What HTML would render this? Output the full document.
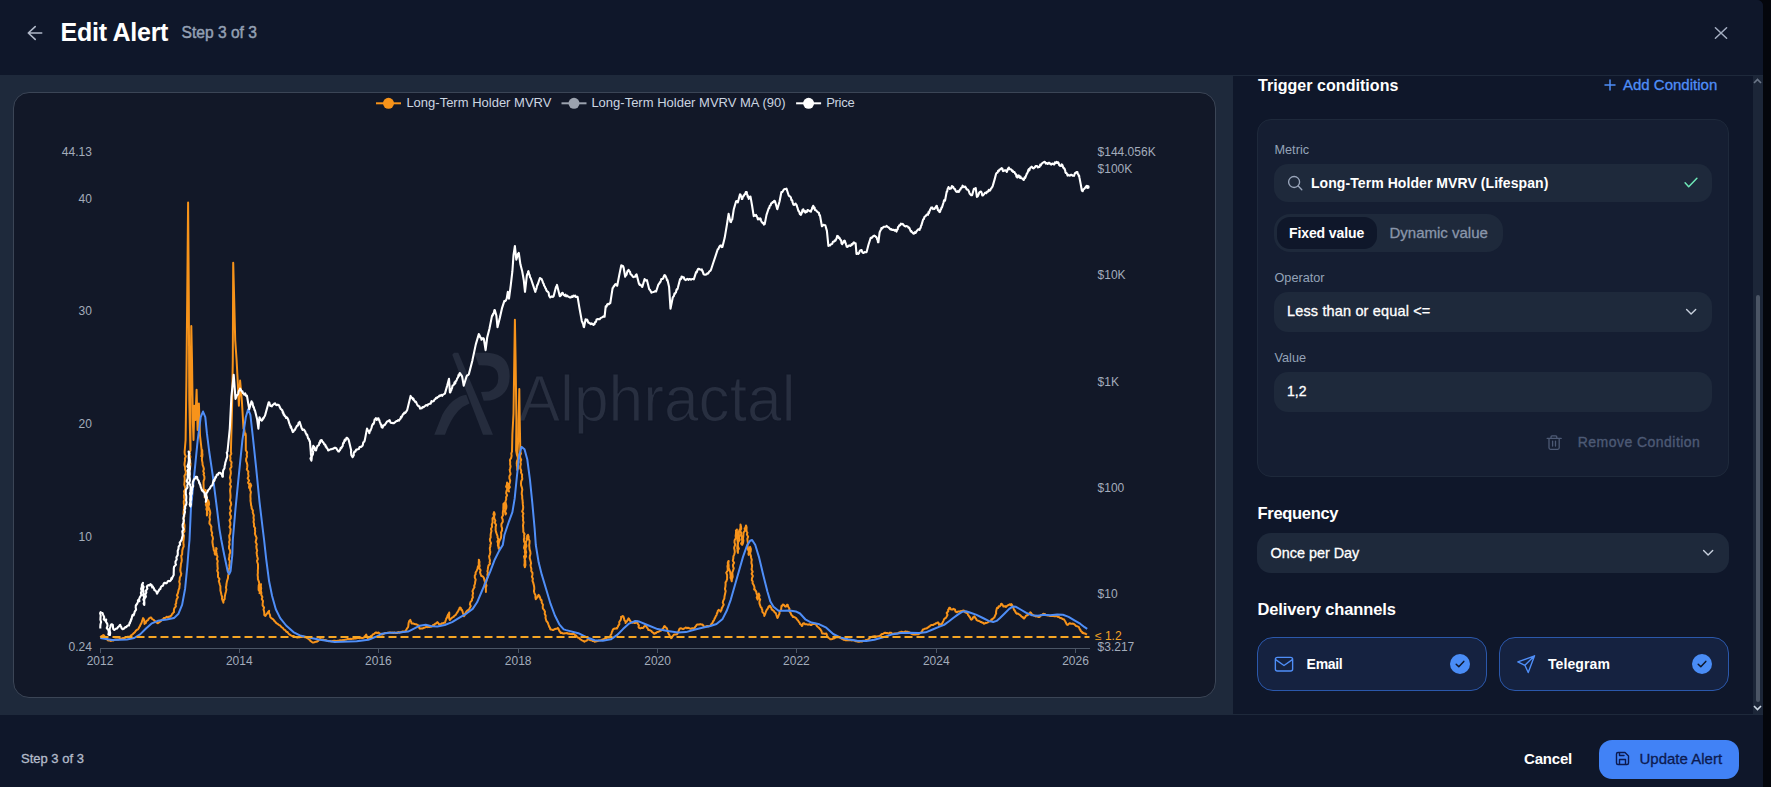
<!DOCTYPE html><html><head><meta charset="utf-8"><title>Edit Alert</title><style>
*{box-sizing:border-box;margin:0;padding:0}
html,body{width:1771px;height:787px;overflow:hidden;background:#04060c;font-family:"Liberation Sans",sans-serif;color:#fff}
.abs{position:absolute}
#modal{position:absolute;left:0;top:0;width:1763px;height:787px;background:#0f172a;border-top-right-radius:6px;overflow:hidden}
#hdr{position:absolute;left:0;top:0;width:1763px;height:76px;background:#0f172a;border-bottom:1px solid #1e293b}
#left{position:absolute;left:0;top:75px;width:1233px;height:639px;background:#1e293b}
#card{position:absolute;left:13px;top:92px;width:1203px;height:606px;background:#121828;border:1px solid #3b4556;border-radius:16px}
#right{position:absolute;left:1233px;top:76px;width:530px;height:638px;background:#0f172a}
#ftr{position:absolute;left:0;top:714px;width:1763px;height:73px;background:#0f172a;border-top:1px solid #1e293b}
.t{position:absolute;white-space:nowrap;line-height:1}
.lbl{font-size:12.7px;color:#94a3b8}
.inp{position:absolute;background:#1e293b;border-radius:14px}
</style></head><body>
<div id="modal">
<div id="hdr"></div>
<svg class="abs" style="left:26px;top:24px" width="18" height="18" viewBox="0 0 18 18" fill="none" stroke="#b1b9c9" stroke-width="1.6" stroke-linecap="round" stroke-linejoin="round"><path d="M15.7 9H2.3M9.2 2.6L2.3 9L9.2 15.4"/></svg>
<div class="t" id="title" style="left:60.5px;top:19.9px;font-size:25px;font-weight:700;letter-spacing:-0.25px">Edit Alert</div>
<div class="t" id="step" style="left:181.5px;top:24.5px;font-size:15.6px;color:#94a0b4;-webkit-text-stroke:0.45px #94a0b4">Step 3 of 3</div>
<svg class="abs" style="left:1713px;top:25px" width="16" height="16" viewBox="0 0 16 16" fill="none" stroke="#a3adc0" stroke-width="1.5" stroke-linecap="round"><path d="M2.4 2.7L13.6 13.3M13.6 2.7L2.4 13.3"/></svg>
<div id="left"></div><div id="card"></div>
<svg class="abs" style="left:0;top:0" width="1771" height="787" viewBox="0 0 1771 787"><g fill="#252c3d"><path d="M452.3,354.7 L454.1,352.7 L458.3,352.7 L493,434.7 L483,434.7 Z"/><path d="M466.3,394.7 Q452,397 442.3,414.7 L434.3,434.7 L445,434.7 Q450,420 458.3,410.7 Q463,406 469.5,403.5 Z"/><path d="M474.3,352.7 L488,352.7 Q509.7,354 509.7,376 Q509.7,396 490,400.5 L483.7,400.7 L481,392 L489,391.5 Q498.3,388 498.3,378 Q498.3,366.5 487,365.5 L478.8,365.3 Z"/></g><text x="518.5" y="420.5" font-family="Liberation Sans, sans-serif" font-size="64" fill="#282f40" stroke="#121828" stroke-width="1.1" textLength="277" lengthAdjust="spacingAndGlyphs">Alphractal</text><path d="M100,648.5 H1090" stroke="#4b5565" stroke-width="1"/><path d="M100.5,648 V653" stroke="#4b5565" stroke-width="1"/><path d="M239.5,648 V653" stroke="#4b5565" stroke-width="1"/><path d="M378.5,648 V653" stroke="#4b5565" stroke-width="1"/><path d="M518.5,648 V653" stroke="#4b5565" stroke-width="1"/><path d="M657.5,648 V653" stroke="#4b5565" stroke-width="1"/><path d="M796.5,648 V653" stroke="#4b5565" stroke-width="1"/><path d="M936.5,648 V653" stroke="#4b5565" stroke-width="1"/><path d="M1075.5,648 V653" stroke="#4b5565" stroke-width="1"/><path d="M100.3,637.3 L101.0,636.6 L101.8,635.9 L102.5,635.7 L103.3,635.0 L103.9,635.4 L104.6,636.5 L105.2,637.1 L105.8,637.6 L106.4,638.7 L107.1,639.1 L107.7,640.2 L108.7,640.4 L109.6,640.4 L110.6,641.0 L111.6,640.5 L112.6,640.4 L113.5,640.5 L114.5,639.7 L115.5,639.6 L116.5,639.5 L117.6,639.4 L118.6,639.4 L119.7,638.9 L120.7,638.6 L121.8,638.8 L122.8,637.9 L123.9,638.0 L124.9,638.0 L125.9,637.4 L126.9,637.0 L127.8,636.8 L128.8,636.7 L129.8,636.6 L130.5,636.2 L131.3,635.1 L132.0,634.8 L132.7,634.2 L133.5,633.4 L134.2,632.9 L134.9,632.2 L135.7,631.0 L136.4,630.3 L137.1,629.7 L137.9,629.4 L138.6,628.5 L139.0,627.6 L139.5,626.6 L139.9,626.1 L140.3,625.1 L140.7,624.1 L141.2,623.8 L141.6,622.6 L141.9,621.9 L142.2,620.5 L142.5,620.0 L142.8,619.0 L143.1,618.1 L144.2,620.1 L144.4,622.0 L144.5,624.0 L145.1,623.0 L145.7,623.1 L146.3,621.3 L146.9,620.9 L147.5,620.3 L148.2,619.9 L148.9,618.4 L149.7,618.1 L150.4,617.4 L151.2,617.4 L151.9,618.7 L152.7,619.4 L153.4,619.6 L154.1,620.3 L154.9,621.3 L155.6,621.2 L156.3,622.3 L157.1,622.8 L157.8,623.3 L158.5,622.8 L159.3,622.0 L160.0,621.8 L160.7,621.3 L161.5,620.2 L162.2,619.6 L163.1,619.2 L164.0,617.9 L164.9,618.1 L165.8,617.5 L166.7,616.7 L167.6,617.3 L168.5,617.1 L169.4,616.4 L170.3,616.7 L170.9,615.8 L171.5,615.4 L172.2,613.8 L172.8,613.6 L173.4,612.5 L174.0,612.2 L173.9,610.2 L174.3,608.3 L175.9,606.3 L175.4,604.4 L176.2,603.4 L176.2,601.4 L176.7,599.3 L177.9,597.3 L176.9,595.2 L177.9,593.2 L178.4,591.1 L178.5,590.1 L179.4,588.0 L179.5,585.9 L179.9,583.9 L179.2,581.8 L179.7,579.7 L179.8,577.6 L180.9,575.5 L181.3,573.4 L180.7,572.4 L180.3,570.3 L180.5,568.2 L180.8,566.2 L180.9,564.1 L181.5,562.0 L181.8,559.9 L181.5,557.8 L181.2,555.7 L182.1,554.7 L182.2,552.6 L182.3,550.5 L182.8,548.4 L183.7,546.3 L183.5,544.2 L183.4,542.1 L183.6,540.0 L183.8,537.8 L184.0,535.7 L183.0,533.5 L184.5,531.4 L184.3,529.2 L184.5,527.0 L184.5,524.9 L183.9,522.7 L183.9,520.5 L183.5,518.4 L184.4,516.2 L183.5,514.1 L183.6,511.9 L183.9,509.7 L183.9,507.6 L184.2,505.4 L183.8,503.2 L183.8,501.1 L184.6,500.0 L184.1,497.8 L184.0,495.6 L184.5,493.5 L184.0,491.3 L185.4,489.1 L185.0,486.9 L184.3,484.7 L184.5,482.5 L184.7,480.4 L184.7,478.2 L184.4,476.0 L185.6,473.8 L185.9,471.6 L185.1,469.5 L185.1,467.3 L184.5,465.1 L184.6,462.9 L185.0,460.7 L184.9,458.5 L185.9,456.4 L184.8,454.2 L184.6,452.0 L185.6,440.0 L186.4,380.0 L187.2,300.0 L188.1,202.6 L188.8,300.0 L189.3,400.0 L190.4,450.3 L189.7,452.5 L189.1,454.7 L189.8,456.9 L189.0,459.1 L189.8,461.2 L190.5,463.4 L190.4,465.6 L190.1,467.8 L189.8,470.0 L189.4,467.8 L189.6,465.6 L189.3,463.4 L190.3,461.2 L189.9,459.1 L190.4,456.9 L189.7,454.7 L189.5,452.5 L190.5,450.3 L190.4,400.0 L191.3,326.1 L192.0,360.0 L192.8,420.0 L193.5,440.0 L194.3,405.8 L195.4,420.0 L196.6,389.7 L197.6,430.0 L198.9,403.5 L200.0,435.5 L201.7,450.7 L201.6,452.8 L201.6,455.0 L201.2,456.1 L202.0,454.1 L202.3,452.0 L202.2,450.0 L201.9,452.1 L202.5,454.2 L202.3,456.4 L201.9,458.5 L202.0,460.6 L202.5,462.7 L202.6,464.9 L203.4,467.0 L203.9,469.1 L203.2,471.2 L204.1,473.3 L203.5,474.4 L204.4,476.6 L204.4,478.8 L203.6,480.9 L203.5,483.1 L203.6,485.3 L203.6,487.5 L203.8,489.7 L204.5,491.8 L205.1,494.0 L205.1,496.2 L204.6,497.3 L204.9,495.2 L205.4,493.1 L205.9,491.0 L205.6,490.0 L205.0,492.1 L206.1,494.3 L206.6,496.4 L206.5,498.5 L206.5,500.7 L206.2,502.8 L205.8,504.9 L206.9,507.1 L206.3,509.2 L207.2,511.3 L207.5,513.5 L206.9,515.6 L206.9,513.5 L207.0,511.4 L208.1,509.4 L207.8,507.3 L207.1,505.2 L207.2,503.1 L207.4,501.0 L208.0,500.0 L208.9,502.2 L209.1,504.4 L208.3,506.5 L209.2,508.7 L209.9,510.8 L210.3,513.0 L209.9,515.1 L209.5,517.2 L210.0,519.4 L209.5,521.5 L209.4,523.6 L210.3,524.7 L211.4,526.7 L211.2,528.8 L211.3,530.8 L212.2,532.9 L211.7,534.9 L212.7,536.9 L213.0,539.0 L212.6,540.0 L212.4,542.0 L212.7,544.0 L213.0,546.0 L213.6,548.0 L213.7,549.9 L214.7,551.8 L214.7,553.7 L215.3,554.7 L215.4,552.8 L215.2,550.9 L216.7,549.0 L216.2,548.0 L216.1,550.2 L216.4,552.4 L216.8,554.5 L217.5,556.7 L216.8,558.9 L217.8,561.1 L217.3,563.2 L217.5,565.4 L217.5,566.5 L217.8,568.6 L217.2,570.7 L218.2,572.7 L218.0,574.8 L218.0,576.9 L219.5,579.0 L218.8,581.1 L219.5,583.2 L219.7,584.2 L220.4,586.3 L220.4,588.4 L220.4,590.5 L221.0,592.7 L221.4,594.8 L222.1,596.9 L222.0,599.0 L222.3,599.3 L222.7,600.9 L223.1,601.4 L223.4,602.7 L223.5,600.8 L224.7,598.9 L224.7,597.0 L224.9,596.0 L225.3,593.9 L225.9,591.7 L226.4,589.6 L225.9,587.4 L226.4,585.3 L226.4,584.2 L226.8,582.1 L227.3,580.1 L228.0,578.0 L228.1,576.0 L228.6,573.9 L228.7,571.8 L228.7,569.6 L229.6,567.5 L229.3,565.4 L229.6,563.2 L229.8,561.1 L228.8,559.0 L229.4,556.8 L229.4,554.7 L230.2,552.6 L230.1,550.5 L229.0,548.4 L229.0,546.3 L229.6,544.2 L229.1,542.1 L229.8,540.0 L229.4,537.8 L229.2,535.7 L230.2,533.5 L230.4,531.3 L230.6,529.1 L229.5,527.0 L230.4,524.8 L230.3,522.6 L229.5,520.4 L230.8,518.3 L230.9,516.1 L230.2,515.0 L229.8,512.9 L231.0,510.8 L230.1,508.8 L230.3,506.7 L231.2,504.6 L230.9,502.5 L229.9,500.4 L230.4,498.3 L230.5,497.3 L230.5,495.1 L230.3,492.9 L230.1,490.8 L230.3,488.6 L231.0,486.4 L229.8,484.2 L230.7,482.0 L230.6,479.9 L229.9,477.7 L230.4,475.5 L230.9,473.3 L230.7,471.1 L230.1,468.9 L231.5,466.8 L231.2,464.6 L231.6,462.4 L230.2,460.2 L230.5,458.0 L230.1,455.9 L231.3,453.7 L230.9,451.5 L232.1,405.8 L232.8,360.0 L233.2,262.8 L234.2,300.0 L235.2,340.0 L236.6,360.0 L237.8,382.9 L238.9,405.8 L240.1,380.6 L241.9,401.2 L243.5,428.6 L243.8,428.6 L244.2,428.9 L244.5,431.2 L244.8,434.4 L245.1,434.9 L245.5,433.5 L245.8,435.5 L245.8,450.3 L247.1,452.4 L246.7,454.5 L247.0,456.7 L246.1,458.8 L246.1,460.9 L246.9,463.0 L247.4,465.2 L247.2,467.4 L246.8,469.5 L248.4,471.7 L248.1,473.9 L248.6,476.1 L247.6,478.3 L249.1,480.5 L248.0,482.6 L249.5,484.8 L249.0,487.0 L249.2,488.1 L249.4,486.3 L250.2,484.4 L250.4,483.5 L251.2,485.7 L250.2,487.9 L250.1,490.0 L250.9,492.2 L250.5,494.4 L250.4,496.6 L250.6,498.8 L250.5,500.9 L250.9,503.1 L251.1,505.3 L251.5,506.4 L251.7,508.4 L252.9,510.5 L252.7,512.5 L253.5,514.6 L253.8,515.6 L253.5,517.7 L253.9,519.8 L253.5,521.9 L254.1,524.0 L253.9,526.1 L255.2,528.2 L254.9,529.3 L255.2,531.4 L254.9,533.6 L255.6,535.7 L256.6,537.9 L256.1,540.0 L255.6,542.1 L256.8,544.2 L256.3,546.3 L256.5,548.4 L257.2,550.5 L256.6,552.6 L256.9,554.7 L257.3,556.8 L257.9,558.9 L257.0,561.0 L257.3,562.1 L258.0,564.2 L258.0,566.4 L258.0,568.5 L257.8,570.6 L257.9,572.8 L257.6,574.9 L257.9,577.0 L257.9,579.2 L258.8,581.3 L259.3,583.4 L258.7,585.6 L258.6,587.7 L258.6,589.9 L260.0,592.0 L259.5,593.1 L260.4,591.1 L260.4,589.1 L260.2,587.2 L260.4,585.2 L261.0,584.2 L260.8,586.3 L261.2,588.4 L260.8,590.5 L261.4,592.7 L261.2,594.8 L262.4,596.9 L261.8,599.0 L263.0,601.1 L262.7,603.3 L262.6,605.4 L264.1,607.6 L263.5,609.7 L264.0,610.8 L264.3,612.8 L264.3,614.9 L265.4,615.9 L266.0,614.9 L266.6,614.2 L267.2,613.4 L267.9,612.1 L268.5,611.7 L269.1,610.8 L268.9,612.9 L270.0,615.0 L270.3,617.1 L271.3,618.1 L272.1,618.7 L272.8,619.1 L273.6,619.8 L274.3,620.9 L275.1,621.5 L275.8,622.6 L276.7,623.3 L277.6,623.8 L278.4,624.6 L279.3,625.1 L280.2,625.5 L280.9,626.5 L281.7,627.3 L282.4,627.6 L283.1,628.3 L283.9,629.6 L284.6,629.9 L285.3,630.2 L286.1,631.4 L286.8,632.0 L287.6,632.1 L288.3,633.4 L289.0,634.1 L289.8,634.6 L290.5,635.1 L291.5,635.7 L292.5,636.1 L293.4,635.9 L294.4,636.6 L295.4,636.9 L296.4,637.3 L297.5,637.5 L298.5,637.3 L299.6,637.2 L300.6,637.0 L301.7,637.1 L302.7,636.8 L303.8,636.6 L304.7,637.2 L305.6,637.3 L306.4,637.6 L307.3,638.1 L308.2,638.8 L308.9,639.3 L309.7,639.8 L310.4,640.9 L311.1,641.3 L311.9,642.0 L312.6,642.5 L313.5,642.4 L314.4,642.3 L315.2,642.0 L316.1,641.5 L317.0,641.7 L317.8,641.2 L318.5,640.5 L319.2,639.7 L320.0,639.0 L321.0,639.3 L322.0,639.6 L322.9,639.4 L323.9,640.1 L324.9,640.1 L325.9,640.2 L326.8,640.6 L327.8,641.1 L328.8,641.2 L329.8,640.9 L330.8,641.2 L331.8,641.3 L332.9,640.9 L333.9,640.8 L334.9,640.8 L335.9,640.9 L336.9,640.9 L337.9,640.7 L339.0,640.7 L340.0,640.2 L341.0,640.2 L342.0,640.4 L343.1,640.0 L344.1,640.2 L345.2,639.7 L346.2,639.6 L347.3,639.1 L348.3,638.9 L349.4,639.0 L350.4,638.7 L351.5,638.9 L352.5,638.8 L353.6,638.7 L354.6,638.3 L355.7,638.4 L356.7,638.2 L357.7,638.1 L358.8,637.8 L359.8,638.2 L360.9,637.6 L361.9,638.1 L363.0,637.9 L364.0,637.5 L364.6,636.4 L365.1,636.0 L365.6,635.5 L366.2,634.5 L366.6,635.8 L366.9,636.3 L367.3,637.1 L367.7,638.2 L368.6,637.4 L369.5,637.4 L370.5,636.3 L371.4,636.0 L372.1,635.4 L372.9,634.4 L373.6,634.1 L374.4,633.8 L375.1,632.8 L376.0,632.4 L376.9,633.0 L377.8,632.7 L378.7,632.6 L379.4,633.4 L380.2,633.7 L380.9,633.8 L381.7,634.5 L382.7,634.5 L383.6,633.9 L384.6,633.2 L385.6,632.9 L386.5,633.1 L387.5,632.8 L388.5,632.8 L389.5,632.6 L390.4,632.5 L391.4,632.7 L392.4,632.6 L393.4,633.1 L394.3,632.4 L395.3,633.0 L396.3,632.8 L397.3,632.9 L398.3,632.1 L399.2,632.7 L400.2,632.3 L401.2,632.3 L402.2,631.6 L403.1,631.5 L404.1,631.4 L405.1,631.3 L405.7,630.9 L406.3,629.7 L406.9,628.7 L407.5,627.9 L408.1,627.2 L408.4,625.1 L408.6,623.0 L409.3,620.9 L410.3,619.9 L410.7,621.2 L411.1,621.5 L411.4,623.1 L411.8,623.5 L412.7,623.4 L413.6,623.6 L414.5,624.1 L415.4,624.3 L416.4,624.3 L417.4,624.9 L418.4,625.4 L418.8,626.7 L419.1,627.4 L419.4,628.2 L419.8,628.7 L420.8,628.6 L421.8,628.6 L422.8,628.4 L423.7,627.7 L424.7,627.7 L425.7,627.2 L426.7,626.6 L427.7,627.2 L428.6,626.8 L429.6,627.0 L430.6,626.8 L431.6,626.5 L432.5,625.7 L433.4,624.8 L434.2,625.2 L435.1,623.7 L436.0,623.5 L436.7,622.8 L437.4,622.1 L437.9,622.7 L438.4,623.3 L438.9,624.3 L439.9,624.3 L440.9,624.3 L441.9,623.3 L442.8,623.5 L443.8,622.8 L444.8,622.8 L445.2,622.0 L445.5,620.9 L445.9,619.7 L446.2,618.7 L446.6,617.9 L447.0,617.8 L447.3,616.4 L447.7,615.5 L448.1,614.4 L448.4,614.5 L448.8,613.9 L449.2,612.5 L449.3,614.6 L449.0,616.7 L449.3,618.8 L449.9,619.9 L450.6,618.8 L451.4,618.5 L452.1,617.6 L452.9,617.2 L453.6,616.9 L454.2,615.9 L454.8,615.5 L455.5,615.2 L456.1,614.3 L456.7,613.1 L457.3,612.5 L457.8,611.5 L458.3,610.8 L458.8,609.8 L459.2,608.9 L459.7,607.6 L460.2,607.4 L460.8,608.0 L461.3,609.9 L461.8,609.6 L462.4,611.1 L463.0,613.1 L463.8,615.2 L463.9,616.2 L464.4,615.8 L464.9,614.1 L465.4,613.3 L465.8,612.5 L466.3,611.8 L466.8,611.1 L467.5,610.3 L468.2,610.2 L469.0,609.4 L469.7,608.1 L470.8,606.1 L469.9,604.2 L470.4,602.2 L472.0,600.3 L471.9,599.3 L472.9,597.3 L472.5,595.2 L473.1,593.2 L472.5,591.2 L473.4,589.1 L474.6,587.1 L474.1,586.1 L474.9,584.0 L475.2,581.8 L475.7,579.7 L474.8,577.6 L474.8,575.5 L475.6,574.4 L475.6,572.5 L476.7,570.7 L477.5,568.9 L477.8,567.0 L478.8,564.9 L478.7,562.8 L478.9,560.7 L478.8,559.7 L479.5,561.8 L479.3,563.9 L479.7,566.0 L479.1,568.1 L480.6,570.2 L480.0,572.3 L480.7,574.4 L481.4,576.1 L482.2,576.2 L482.9,576.6 L483.3,577.0 L483.7,577.5 L484.0,578.6 L484.4,580.3 L484.8,581.3 L485.2,581.7 L484.7,583.8 L484.8,585.8 L485.7,587.9 L485.9,589.9 L485.9,592.0 L485.9,589.8 L485.8,587.7 L486.5,585.5 L485.7,583.3 L486.4,581.2 L486.8,579.0 L487.7,576.8 L487.4,574.7 L487.9,572.5 L487.4,571.4 L487.8,569.4 L488.0,567.5 L488.5,565.5 L490.1,563.6 L489.6,562.6 L490.0,560.5 L489.5,558.5 L489.1,556.4 L489.9,554.3 L490.3,552.2 L490.0,550.2 L489.8,548.1 L490.5,546.0 L490.3,545.0 L491.1,543.1 L490.1,541.1 L489.9,539.2 L490.7,537.3 L490.6,535.2 L490.9,533.1 L491.5,531.0 L491.0,528.9 L492.1,526.8 L491.8,524.7 L492.6,522.6 L492.6,520.5 L492.5,518.4 L494.1,516.3 L493.4,514.2 L494.1,512.1 L494.8,514.2 L494.1,516.4 L494.3,518.5 L495.4,520.6 L494.8,522.8 L496.1,524.9 L495.6,527.0 L495.7,528.1 L495.6,530.1 L496.1,532.2 L496.8,534.2 L497.6,536.3 L497.5,537.3 L498.4,539.4 L497.4,541.4 L498.0,543.5 L497.9,545.6 L499.3,547.7 L498.7,548.7 L498.4,546.6 L498.6,544.4 L498.9,542.3 L499.8,540.2 L500.9,538.0 L501.2,535.9 L501.2,533.8 L501.0,532.7 L502.0,530.5 L502.1,528.3 L501.4,526.2 L501.4,524.0 L502.8,521.8 L502.7,519.6 L501.8,517.4 L503.0,515.3 L502.8,513.1 L503.0,510.9 L503.3,509.8 L503.3,507.9 L503.4,505.9 L503.4,504.0 L504.4,503.0 L504.2,505.1 L504.6,507.1 L505.7,509.2 L504.6,511.3 L506.1,513.4 L505.5,514.4 L505.1,512.3 L505.5,510.1 L506.3,508.0 L506.4,505.9 L505.9,503.7 L505.4,501.6 L506.2,499.5 L506.1,497.3 L507.1,495.2 L506.1,493.1 L506.5,490.9 L507.4,488.8 L506.1,486.7 L506.9,484.5 L507.1,482.4 L508.0,484.4 L508.4,486.4 L507.6,488.5 L508.0,490.5 L509.0,491.5 L508.4,489.3 L509.9,487.1 L508.9,485.0 L509.8,482.8 L510.2,480.6 L509.4,478.4 L509.4,476.2 L510.6,474.1 L510.1,471.9 L509.7,469.7 L510.1,468.6 L510.6,466.5 L510.1,464.3 L510.2,462.2 L509.9,460.0 L511.2,457.9 L511.6,455.7 L511.3,453.6 L512.0,451.5 L512.4,434.3 L513.5,413.7 L514.3,360.0 L514.9,319.7 L515.6,360.0 L516.4,420.0 L516.1,450.4 L516.5,452.6 L516.9,454.8 L517.7,457.0 L517.8,459.1 L516.9,461.3 L516.7,463.5 L517.0,465.7 L517.2,467.8 L517.2,470.0 L518.0,467.9 L516.8,465.7 L517.9,463.6 L517.9,461.4 L518.1,459.3 L518.1,457.1 L517.9,455.0 L517.5,452.9 L517.6,450.7 L518.2,440.0 L519.3,389.0 L519.7,420.0 L520.0,434.3 L520.3,451.3 L521.0,453.5 L520.0,455.6 L520.2,457.7 L521.2,459.8 L520.4,462.0 L520.9,464.1 L520.3,466.2 L520.3,468.4 L521.2,470.5 L521.0,472.6 L522.1,474.8 L522.0,476.9 L522.3,479.0 L521.2,481.2 L521.0,483.3 L521.1,485.4 L521.9,487.6 L522.3,489.7 L521.9,491.8 L521.7,494.0 L522.2,496.1 L522.2,498.3 L522.6,500.5 L522.7,502.7 L522.9,504.9 L523.2,507.1 L523.0,509.3 L522.2,511.4 L523.4,513.6 L522.7,515.8 L523.2,518.0 L523.0,520.2 L523.6,522.4 L523.3,523.5 L523.0,525.6 L523.2,527.7 L523.3,529.8 L523.3,531.9 L524.6,534.0 L524.1,535.0 L524.3,537.2 L523.9,539.3 L524.1,541.5 L525.1,543.6 L524.4,545.8 L524.0,547.9 L525.0,550.1 L524.8,552.2 L525.4,554.4 L524.0,556.5 L524.6,558.7 L525.3,560.8 L525.3,563.0 L525.5,565.1 L524.9,567.3 L524.3,565.1 L524.7,563.0 L524.6,560.8 L524.8,558.6 L526.1,556.5 L525.6,554.3 L526.2,552.2 L525.6,550.0 L525.6,548.0 L526.5,546.0 L526.0,543.9 L525.9,541.9 L526.9,539.9 L526.5,538.9 L526.9,539.3 L527.2,535.6 L527.6,536.1 L528.0,534.8 L528.7,536.8 L528.6,538.9 L529.6,540.9 L529.5,543.0 L529.2,545.2 L529.4,547.3 L529.6,549.4 L530.3,551.6 L530.5,553.7 L529.9,555.9 L529.7,558.0 L530.3,560.1 L530.6,561.2 L531.1,563.2 L530.5,565.1 L530.9,567.0 L531.4,569.0 L531.2,571.0 L532.5,572.9 L532.4,574.9 L531.9,576.8 L532.9,578.8 L532.5,580.8 L533.3,582.9 L533.8,584.9 L534.2,587.0 L534.3,589.0 L533.9,591.1 L534.4,593.1 L535.5,595.2 L535.4,597.2 L535.8,599.3 L536.4,598.1 L537.0,597.2 L537.5,597.4 L538.1,595.5 L538.7,594.9 L539.1,595.9 L539.6,596.3 L540.0,597.3 L540.4,598.9 L540.8,599.9 L541.3,599.7 L541.7,600.8 L541.7,602.8 L543.0,604.7 L542.7,606.7 L542.9,608.6 L543.9,609.6 L545.0,611.7 L544.7,613.7 L545.7,615.8 L545.5,617.8 L546.1,619.9 L546.5,621.2 L547.0,621.6 L547.4,622.2 L547.9,622.9 L548.3,624.3 L548.7,625.2 L549.0,626.1 L549.4,627.3 L549.8,627.3 L550.1,628.7 L550.5,629.4 L551.5,629.5 L552.4,629.9 L553.4,630.1 L554.3,629.3 L555.2,629.0 L556.0,628.8 L556.9,628.8 L557.8,627.9 L558.3,628.4 L558.8,629.6 L559.3,630.8 L559.8,631.8 L560.3,632.0 L560.8,633.1 L561.9,632.8 L562.9,633.5 L564.0,633.6 L565.0,633.2 L566.1,633.2 L567.1,632.9 L568.1,633.8 L569.1,633.5 L570.2,634.0 L571.2,633.9 L572.2,634.2 L573.2,633.8 L574.2,634.2 L575.0,635.1 L575.7,635.3 L576.5,636.0 L577.2,637.0 L578.0,637.6 L578.8,637.8 L579.5,638.5 L580.3,639.3 L581.1,639.7 L581.9,640.3 L582.8,640.7 L583.6,641.0 L584.4,641.7 L585.2,641.1 L586.0,640.9 L586.9,640.5 L587.7,639.5 L588.5,639.3 L589.5,639.7 L590.5,640.3 L591.5,640.2 L592.6,641.1 L593.6,641.0 L594.6,641.7 L595.6,641.5 L596.6,641.3 L597.7,641.1 L598.7,640.6 L599.7,640.5 L600.7,640.3 L601.7,639.9 L602.7,639.4 L603.7,639.2 L604.7,638.6 L605.7,638.2 L606.7,637.9 L607.8,637.3 L608.8,637.5 L609.8,637.2 L610.2,636.3 L610.6,635.2 L611.0,634.7 L611.4,633.8 L611.7,632.7 L612.1,631.5 L612.5,630.9 L612.9,629.6 L613.3,629.1 L614.2,628.6 L615.1,628.7 L616.0,628.3 L616.9,628.5 L617.4,627.5 L617.9,626.7 L618.4,625.3 L618.9,625.0 L619.4,624.0 L619.2,622.0 L620.7,619.9 L621.2,617.9 L621.0,616.9 L621.8,616.8 L622.6,616.1 L623.4,616.5 L624.0,618.4 L624.4,620.2 L625.9,622.1 L625.5,623.0 L626.0,621.8 L626.5,621.8 L627.0,621.2 L627.5,620.1 L628.0,619.5 L628.5,618.3 L629.0,618.7 L629.6,620.3 L630.1,620.5 L630.7,621.8 L631.2,622.0 L632.2,622.8 L633.2,622.3 L634.2,623.0 L635.0,623.0 L635.8,622.8 L636.5,621.5 L637.3,621.6 L637.6,623.5 L638.9,625.3 L638.5,627.2 L639.3,628.1 L640.3,628.4 L641.3,627.7 L642.4,628.1 L643.4,627.7 L643.9,626.7 L644.4,626.4 L644.9,626.1 L645.4,625.0 L645.9,625.5 L646.4,626.5 L646.9,627.6 L647.4,628.2 L647.9,628.8 L648.4,630.1 L649.4,630.1 L650.5,630.5 L651.5,631.1 L652.2,632.2 L653.0,632.6 L653.8,633.5 L654.5,633.8 L655.3,633.1 L656.0,633.2 L656.8,632.2 L657.6,632.1 L658.4,631.7 L659.2,631.4 L660.0,630.8 L660.8,630.8 L661.6,630.1 L662.2,629.3 L662.8,628.5 L663.5,628.0 L664.1,626.4 L664.7,626.0 L665.4,627.2 L666.0,627.5 L666.7,628.1 L667.1,629.0 L667.4,630.4 L667.8,630.9 L668.1,632.6 L668.4,633.2 L668.8,634.2 L669.3,634.9 L669.8,636.0 L670.2,636.6 L670.7,637.2 L671.2,638.2 L671.9,637.5 L672.5,636.1 L673.1,635.9 L673.8,634.8 L674.8,634.4 L675.9,634.5 L676.9,634.2 L677.4,633.7 L677.9,632.4 L678.4,631.5 L678.9,630.2 L679.4,629.0 L679.9,628.5 L680.9,628.3 L682.0,628.6 L683.0,629.1 L683.8,628.8 L684.5,628.2 L685.2,627.9 L686.0,627.5 L687.0,628.2 L688.0,627.7 L689.1,628.1 L690.1,628.7 L691.1,628.8 L692.2,628.2 L693.2,628.2 L694.2,628.7 L694.8,627.7 L695.4,626.6 L696.0,626.0 L696.6,625.0 L697.2,624.4 L698.2,624.5 L699.2,624.5 L700.3,624.1 L701.3,624.5 L702.3,624.4 L702.8,625.0 L703.3,625.4 L703.8,626.9 L704.3,627.1 L705.3,626.6 L706.3,626.3 L707.4,626.0 L708.4,626.4 L709.4,626.0 L710.2,625.6 L711.0,624.8 L711.7,623.6 L712.5,623.0 L712.9,621.9 L713.4,620.7 L713.8,620.6 L714.2,619.6 L714.6,618.5 L715.1,617.9 L715.5,616.9 L715.9,615.9 L716.3,615.7 L716.7,614.5 L717.0,613.0 L717.4,613.0 L717.8,610.9 L718.2,610.7 L718.6,609.8 L719.3,610.3 L719.9,610.8 L720.6,611.8 L721.0,610.2 L721.4,610.2 L721.8,608.0 L722.2,607.8 L722.6,606.7 L723.7,604.7 L722.8,602.6 L723.3,600.6 L724.3,598.6 L724.5,596.5 L724.7,595.5 L725.2,593.3 L725.7,591.1 L724.9,588.9 L725.4,586.8 L725.6,584.6 L725.5,582.4 L726.3,581.3 L727.1,579.1 L727.1,577.0 L727.1,574.8 L726.2,572.7 L727.7,570.5 L727.7,568.4 L727.4,566.2 L728.0,564.1 L727.7,563.0 L728.0,562.2 L728.4,561.0 L728.7,561.0 L728.3,563.2 L728.7,565.3 L728.6,567.5 L729.3,569.7 L730.2,571.9 L730.4,574.0 L730.8,576.2 L730.4,577.3 L730.8,578.8 L731.1,578.8 L731.4,580.4 L731.8,581.3 L731.9,579.1 L732.7,576.9 L732.5,574.7 L732.3,572.6 L733.1,570.4 L733.8,568.2 L733.2,567.1 L732.9,565.0 L734.1,562.8 L732.8,560.7 L733.3,558.6 L733.4,556.4 L734.3,554.3 L734.8,552.1 L734.6,550.0 L734.1,547.9 L734.4,546.8 L735.2,544.6 L734.5,542.5 L734.6,540.3 L735.9,538.1 L735.6,535.9 L735.9,533.8 L736.1,531.6 L735.9,530.5 L736.4,531.6 L736.9,529.5 L736.9,531.6 L737.6,533.8 L737.5,535.9 L737.8,538.0 L737.3,540.1 L737.8,542.3 L737.6,544.4 L737.3,546.5 L737.3,548.6 L738.0,550.8 L737.9,552.9 L737.4,550.7 L738.9,548.6 L737.9,546.4 L737.9,544.2 L738.2,542.0 L739.7,539.9 L739.0,537.7 L739.3,536.6 L738.9,534.6 L738.9,532.5 L739.2,530.5 L740.4,528.5 L740.5,526.4 L740.5,524.4 L741.0,526.5 L741.2,528.7 L740.2,530.8 L741.2,532.9 L741.0,535.1 L741.9,537.2 L742.0,539.4 L742.3,541.5 L741.1,543.6 L741.9,544.7 L742.3,544.8 L742.6,544.0 L743.0,543.1 L743.4,540.7 L743.0,538.7 L743.3,536.6 L743.4,534.6 L743.5,532.6 L745.0,530.5 L744.6,528.5 L745.0,528.8 L745.3,527.4 L745.6,527.3 L746.0,525.4 L746.6,527.4 L746.5,529.5 L746.6,531.5 L747.4,532.5 L746.9,534.6 L748.1,536.8 L747.3,538.9 L747.6,541.0 L747.9,543.2 L747.4,545.3 L747.9,547.4 L748.0,549.6 L748.9,551.7 L748.4,553.8 L748.7,554.9 L748.8,552.9 L750.1,550.8 L749.8,548.8 L750.1,546.8 L750.9,549.0 L750.7,551.2 L750.0,553.4 L750.8,555.5 L751.1,557.7 L751.8,559.9 L751.5,561.0 L751.4,563.1 L752.1,565.3 L751.9,567.4 L751.6,569.5 L752.7,571.7 L751.6,573.8 L752.9,576.0 L752.0,578.1 L751.8,580.2 L752.7,581.3 L752.6,583.3 L753.8,585.3 L754.5,587.4 L754.1,589.4 L754.8,589.2 L755.5,590.8 L756.2,591.5 L756.5,593.5 L757.4,595.5 L756.7,597.6 L757.6,599.6 L758.0,597.6 L758.2,595.5 L758.8,593.5 L759.6,595.5 L758.9,597.6 L760.2,599.6 L759.4,601.6 L759.5,603.7 L760.2,605.7 L760.6,606.8 L761.0,607.3 L761.5,607.6 L761.9,609.2 L762.3,609.8 L762.3,611.8 L764.1,613.9 L764.3,615.9 L764.7,615.1 L765.1,614.2 L765.5,613.0 L765.9,611.6 L766.3,610.8 L766.8,609.8 L767.3,608.9 L767.8,608.8 L768.4,606.8 L768.9,607.1 L769.4,605.7 L770.0,605.8 L770.6,606.9 L771.2,607.8 L771.8,609.6 L772.4,609.8 L773.2,610.6 L774.0,611.1 L774.7,612.6 L775.5,612.8 L775.9,613.5 L776.3,614.8 L776.7,615.9 L777.1,617.2 L777.5,617.9 L777.9,617.4 L778.3,616.4 L778.7,615.2 L779.1,614.4 L779.5,613.8 L779.5,611.8 L781.1,609.8 L781.3,607.7 L781.6,605.7 L782.3,605.7 L782.9,604.5 L783.6,604.7 L784.3,605.3 L785.0,606.4 L785.7,606.7 L786.4,606.2 L787.0,604.8 L787.7,604.7 L788.2,606.7 L789.5,608.8 L789.0,610.8 L789.7,611.8 L790.2,612.2 L790.7,613.2 L791.2,614.6 L791.8,615.6 L792.3,615.6 L792.8,616.9 L793.8,616.8 L794.8,617.3 L795.8,617.9 L796.4,618.5 L797.0,619.6 L797.7,620.0 L798.3,621.0 L798.9,622.0 L799.5,622.5 L800.1,624.1 L800.7,624.6 L801.3,624.8 L801.9,626.0 L802.4,625.6 L802.9,623.7 L803.4,623.2 L804.3,623.3 L805.1,624.3 L806.0,624.3 L806.9,624.3 L807.8,624.7 L808.7,624.5 L809.6,624.3 L810.5,624.9 L811.4,624.9 L812.3,624.2 L813.1,624.0 L814.0,623.9 L814.9,623.7 L815.6,623.9 L816.3,625.0 L816.9,626.1 L817.6,626.7 L818.3,627.2 L819.1,628.0 L819.8,628.9 L820.6,629.5 L821.0,630.5 L821.5,631.2 L821.9,632.6 L822.3,633.5 L823.3,633.4 L824.3,633.7 L825.3,633.8 L826.3,633.5 L826.7,634.4 L827.1,635.6 L827.6,636.7 L828.0,637.5 L828.8,638.0 L829.5,638.4 L830.3,639.2 L831.3,639.2 L832.2,639.1 L833.2,638.6 L834.1,638.4 L834.9,637.9 L835.8,637.6 L836.6,636.9 L837.5,637.2 L838.3,637.3 L839.1,637.3 L840.0,637.5 L840.9,637.9 L841.8,638.7 L842.6,638.9 L843.5,639.8 L844.4,639.8 L845.3,640.2 L846.2,640.2 L847.1,640.3 L848.0,640.3 L849.0,640.1 L849.9,640.2 L850.9,640.3 L851.8,640.4 L852.8,640.2 L853.7,640.3 L854.6,640.7 L855.5,641.2 L856.5,641.0 L857.4,641.6 L858.3,641.8 L859.2,641.8 L860.2,641.4 L861.1,641.3 L862.1,641.5 L863.0,640.7 L864.0,640.9 L864.9,640.6 L865.8,640.0 L866.8,640.1 L867.7,639.8 L868.6,639.2 L869.4,638.4 L870.1,637.4 L870.9,636.9 L871.8,636.8 L872.6,636.6 L873.4,636.6 L874.3,636.3 L875.2,636.3 L876.1,636.4 L877.1,636.6 L878.0,636.3 L878.9,636.3 L879.8,635.7 L880.6,635.5 L881.4,634.3 L882.3,634.0 L883.3,633.7 L884.2,633.0 L885.2,632.7 L886.2,633.2 L887.1,632.9 L888.1,633.5 L888.8,633.6 L889.6,632.8 L890.3,632.7 L891.1,632.8 L891.8,633.4 L892.6,634.0 L893.5,633.8 L894.4,633.4 L895.4,633.6 L896.3,633.5 L897.2,633.5 L898.1,633.3 L898.9,632.6 L899.8,632.2 L900.6,632.0 L901.6,631.7 L902.6,632.1 L903.6,632.3 L904.5,631.9 L905.5,631.5 L906.5,632.0 L907.5,631.7 L908.4,632.1 L909.2,632.3 L910.0,632.7 L910.9,633.5 L911.8,634.0 L912.6,634.3 L913.5,634.4 L914.4,634.6 L915.3,634.5 L916.2,634.4 L917.1,634.0 L918.0,634.5 L918.9,634.0 L919.7,633.3 L920.4,633.0 L921.2,632.3 L921.8,631.7 L922.3,630.7 L922.9,629.5 L923.9,629.2 L924.9,628.7 L925.9,628.6 L926.9,628.3 L927.6,627.4 L928.3,627.5 L929.0,626.5 L929.7,626.4 L930.4,625.5 L931.3,625.1 L932.3,625.0 L933.2,624.9 L934.1,624.2 L935.0,624.0 L935.8,623.3 L936.7,623.2 L937.5,622.4 L938.4,622.6 L939.1,624.1 L938.9,624.9 L939.9,624.5 L940.8,624.2 L941.8,624.3 L942.2,623.2 L942.6,622.6 L943.0,621.7 L943.3,621.1 L943.7,620.2 L944.1,619.2 L944.9,618.3 L945.6,618.2 L946.4,616.9 L947.5,614.9 L946.7,613.0 L948.4,611.0 L948.1,610.0 L948.5,609.8 L948.8,608.9 L949.2,607.7 L950.0,607.7 L950.7,609.3 L951.5,609.4 L952.5,609.6 L953.4,608.7 L954.4,609.4 L955.0,609.4 L955.5,611.5 L956.1,611.8 L956.7,612.3 L957.5,611.8 L958.4,611.5 L959.2,611.4 L960.0,611.7 L960.9,611.1 L961.7,611.5 L962.5,610.7 L963.4,610.6 L964.3,610.7 L965.1,612.3 L966.0,612.7 L966.9,612.9 L967.5,613.3 L968.0,615.0 L968.6,615.4 L969.1,616.5 L969.7,616.9 L970.3,618.0 L970.8,619.2 L971.4,619.7 L972.0,619.4 L972.6,618.8 L973.1,617.3 L973.7,617.2 L974.3,616.3 L974.9,617.1 L975.5,618.2 L976.0,618.6 L976.6,620.0 L977.2,620.3 L978.1,620.8 L978.9,620.9 L979.8,621.3 L980.6,622.0 L981.5,622.0 L982.3,622.8 L983.1,622.8 L984.0,623.7 L984.9,623.4 L985.7,622.8 L986.5,622.9 L987.4,622.6 L988.3,622.0 L989.1,621.5 L990.0,621.3 L990.9,620.3 L991.6,619.2 L992.3,619.6 L992.9,618.6 L993.6,618.1 L994.3,617.5 L995.2,615.4 L996.2,613.3 L996.0,612.3 L996.3,610.5 L996.8,608.6 L997.2,607.7 L998.0,608.0 L998.7,606.3 L999.5,606.6 L1000.0,606.1 L1000.6,605.4 L1001.2,603.7 L1001.7,603.7 L1002.3,604.6 L1002.9,605.4 L1003.4,606.5 L1004.0,606.6 L1005.0,606.1 L1005.9,606.9 L1006.9,606.0 L1007.8,605.4 L1008.8,604.8 L1009.7,604.3 L1010.5,605.1 L1011.2,604.0 L1012.0,604.9 L1012.4,606.2 L1012.9,607.1 L1013.3,607.7 L1013.7,608.9 L1014.2,610.2 L1014.6,610.3 L1015.1,611.3 L1015.5,612.1 L1016.0,612.9 L1016.9,613.7 L1017.8,613.4 L1018.6,614.1 L1019.5,614.6 L1020.2,615.1 L1020.9,615.8 L1021.6,616.7 L1022.3,616.9 L1022.9,617.2 L1023.4,618.4 L1024.0,618.6 L1024.6,617.8 L1025.2,617.2 L1025.7,616.1 L1026.3,615.7 L1027.1,615.1 L1027.8,615.2 L1028.6,614.0 L1029.2,613.6 L1029.7,613.3 L1030.3,612.3 L1030.9,612.8 L1031.4,613.6 L1032.0,614.6 L1032.8,614.7 L1033.5,615.4 L1034.3,615.7 L1035.2,616.1 L1036.1,616.5 L1037.1,615.8 L1038.0,616.9 L1038.9,616.9 L1039.6,617.0 L1040.3,616.1 L1041.1,615.0 L1041.8,615.2 L1042.5,614.5 L1043.3,613.8 L1044.0,614.0 L1045.0,614.0 L1045.9,615.3 L1046.9,615.2 L1047.8,615.4 L1048.7,615.6 L1049.7,615.9 L1050.6,616.1 L1051.5,615.7 L1052.5,615.9 L1053.4,616.0 L1054.3,616.2 L1055.3,616.3 L1056.2,616.3 L1057.2,616.3 L1058.0,617.0 L1058.9,616.8 L1059.8,617.8 L1060.6,618.0 L1061.6,618.3 L1062.5,619.1 L1063.5,619.2 L1064.1,619.6 L1064.7,620.5 L1065.2,621.2 L1065.8,622.6 L1066.4,623.7 L1066.9,624.6 L1067.5,624.9 L1068.3,624.5 L1069.0,623.6 L1069.8,623.2 L1070.7,623.7 L1071.5,623.8 L1072.3,623.6 L1073.2,623.7 L1073.9,624.0 L1074.7,624.6 L1075.4,625.3 L1076.1,626.0 L1077.0,626.2 L1078.0,626.7 L1078.9,627.2 L1079.3,628.2 L1079.8,629.3 L1080.2,629.3 L1080.6,630.6 L1081.2,631.4 L1081.8,631.7 L1082.4,632.9 L1083.3,632.8 L1084.3,633.6 L1085.2,633.5 L1086.1,634.1 L1086.9,634.6" fill="none" stroke="#f7931a" stroke-width="2" stroke-linejoin="round"/><path d="M100.3,638.0 L112.1,640.0 L126.9,639.5 L134.2,638.0 L140.1,634.4 L146.0,628.5 L151.9,623.3 L157.8,620.8 L166.7,619.6 L174.0,618.1 L178.5,613.7 L182.1,604.9 L185.1,588.7 L187.3,566.5 L188.8,547.4 L189.5,540.0 L190.9,508.7 L194.3,474.4 L197.7,440.1 L200.7,417.2 L203.0,411.5 L205.3,417.2 L206.9,433.2 L209.2,451.5 L212.6,474.4 L216.1,501.8 L219.5,529.3 L221.3,540.0 L224.2,554.7 L227.8,571.7 L229.2,574.0 L230.6,571.0 L232.3,555.0 L232.8,540.0 L235.5,508.7 L238.9,474.4 L242.4,440.1 L245.8,417.2 L248.1,409.2 L250.4,414.9 L252.7,435.5 L256.1,467.5 L259.5,501.8 L262.5,527.0 L264.1,540.0 L266.2,559.2 L269.1,581.3 L272.1,596.0 L275.8,609.3 L280.2,618.1 L286.1,625.5 L293.4,632.1 L300.8,635.8 L311.1,638.0 L320.0,639.7 L334.7,641.9 L356.7,641.2 L368.4,639.7 L375.8,636.8 L381.7,633.8 L389.0,632.8 L399.3,632.6 L408.1,631.6 L414.0,628.7 L419.8,625.7 L425.7,624.7 L431.6,626.2 L437.4,626.5 L444.8,625.0 L452.1,622.1 L459.5,617.7 L466.8,613.3 L472.7,608.9 L477.1,602.3 L481.5,592.0 L485.9,581.7 L490.3,571.4 L494.7,559.7 L499.1,550.9 L502.8,545.0 L504.4,535.0 L509.0,521.3 L512.4,512.1 L514.7,498.4 L517.0,475.5 L519.3,454.9 L521.5,446.9 L524.5,449.2 L527.3,459.5 L530.0,480.1 L532.3,502.9 L534.6,528.1 L535.8,545.0 L538.7,562.6 L541.7,574.4 L546.1,589.0 L550.5,603.7 L554.9,615.5 L559.3,624.3 L563.7,629.4 L566.1,630.1 L578.3,633.2 L586.4,637.2 L594.6,640.3 L602.7,640.7 L610.8,639.3 L616.9,635.2 L623.0,629.1 L629.1,623.6 L635.2,621.0 L639.3,621.6 L647.4,625.0 L657.6,629.1 L667.7,631.1 L677.9,632.5 L686.0,632.1 L694.2,629.7 L702.3,627.7 L710.4,626.0 L716.5,624.0 L722.6,618.9 L726.7,610.8 L730.8,599.6 L734.8,585.4 L738.9,571.2 L743.0,556.9 L747.0,545.7 L750.1,540.7 L752.1,540.0 L755.2,544.7 L759.2,557.9 L763.3,575.2 L767.4,591.5 L770.4,601.6 L773.5,606.7 L778.5,610.8 L783.6,610.8 L789.7,610.4 L795.8,611.4 L800.0,613.5 L805.7,619.7 L811.4,622.6 L819.4,624.3 L826.3,627.7 L833.2,634.0 L840.0,637.5 L848.0,639.2 L857.2,640.7 L866.3,641.1 L874.3,639.8 L882.3,637.5 L891.5,634.6 L900.6,632.9 L909.8,632.7 L918.9,632.9 L925.8,632.3 L932.6,629.5 L939.5,626.6 L944.1,624.9 L948.7,621.5 L953.2,618.0 L957.8,614.6 L962.4,611.7 L965.8,611.2 L969.1,612.3 L976.0,614.6 L982.9,618.0 L988.6,620.9 L993.2,622.0 L996.6,620.9 L1000.0,618.0 L1004.6,613.5 L1009.2,608.9 L1012.6,606.6 L1016.0,606.8 L1020.6,609.5 L1026.3,612.9 L1032.0,615.2 L1037.8,615.7 L1043.5,614.8 L1050.3,615.2 L1057.2,614.6 L1062.9,614.8 L1068.6,616.9 L1074.4,620.3 L1080.1,623.7 L1084.6,627.2 L1087.2,628.9" fill="none" stroke="#4f8ef7" stroke-width="2" stroke-linejoin="round"/><path d="M100.3,628.5 L100.3,626.3 L100.5,624.2 L101.1,622.0 L100.4,619.8 L100.5,617.6 L100.7,615.5 L100.1,613.3 L100.6,612.2 L101.5,612.6 L102.5,613.0 L103.3,615.1 L104.2,617.2 L103.7,619.3 L104.7,620.3 L105.5,619.5 L106.2,619.6 L105.9,621.7 L107.3,623.8 L107.5,625.9 L106.7,628.1 L108.5,630.2 L108.8,632.3 L108.4,634.4 L109.2,635.0 L109.9,635.0 L110.2,632.9 L109.7,630.8 L109.6,628.7 L110.6,626.6 L110.6,625.5 L111.3,624.3 L112.1,624.4 L112.8,624.8 L113.0,626.9 L113.2,629.0 L114.3,630.0 L115.0,629.4 L115.8,628.9 L116.5,628.5 L117.2,628.5 L118.0,627.1 L118.7,626.6 L119.5,625.5 L120.2,624.8 L120.6,626.1 L121.0,626.6 L121.3,627.1 L121.7,628.5 L122.6,629.2 L123.6,628.8 L124.5,628.1 L125.4,627.0 L126.3,627.1 L127.2,625.8 L128.1,625.3 L129.0,625.5 L129.3,624.1 L129.7,622.6 L130.0,623.2 L130.3,621.4 L130.7,621.4 L131.0,619.4 L131.3,619.7 L131.7,618.4 L132.0,616.7 L132.6,614.9 L133.1,614.6 L133.6,615.4 L134.2,613.7 L134.7,611.7 L136.1,609.6 L135.7,607.6 L135.8,605.5 L137.3,603.5 L138.1,601.4 L137.9,600.4 L138.7,600.3 L139.4,601.2 L139.1,599.2 L139.9,597.1 L141.3,595.0 L140.9,593.0 L141.7,591.0 L141.1,588.9 L141.8,586.9 L141.9,584.8 L143.0,582.8 L142.4,584.9 L143.7,587.0 L142.9,589.1 L143.6,591.2 L143.5,593.3 L143.2,595.4 L144.2,597.5 L143.4,599.6 L144.3,601.7 L143.6,603.8 L144.3,604.9 L144.4,602.8 L144.2,600.7 L144.5,598.7 L145.9,596.6 L145.3,594.5 L146.3,592.5 L146.0,590.6 L147.4,588.6 L146.8,586.7 L147.5,585.7 L148.5,585.0 L149.4,585.5 L150.4,584.2 L151.0,585.3 L151.6,584.8 L152.2,587.5 L152.8,586.5 L153.4,587.9 L153.9,588.2 L154.4,590.2 L154.9,590.1 L155.5,590.8 L156.0,591.2 L156.5,592.1 L157.0,593.8 L157.5,593.0 L158.1,591.3 L158.6,591.2 L159.2,589.7 L159.7,589.0 L160.3,589.2 L160.8,587.2 L161.5,586.4 L162.3,585.9 L163.0,585.8 L163.7,583.6 L164.5,582.8 L165.2,582.8 L166.1,583.4 L167.0,582.9 L167.8,581.3 L168.7,580.9 L169.6,581.3 L170.2,580.9 L170.8,580.5 L171.4,578.0 L172.0,578.8 L172.6,576.9 L173.7,574.9 L173.7,572.8 L173.8,570.8 L173.8,568.7 L174.1,566.7 L176.0,564.6 L175.5,563.6 L175.5,561.5 L176.7,559.4 L176.4,557.3 L177.7,555.1 L177.8,553.0 L177.7,550.9 L178.5,548.8 L178.6,546.7 L180.1,544.6 L179.7,542.5 L180.7,541.5 L181.2,540.2 L181.7,540.0 L182.0,537.8 L182.7,535.7 L182.6,533.5 L182.3,531.4 L183.6,529.2 L182.7,527.0 L182.6,524.9 L183.3,522.7 L183.8,520.6 L183.4,518.4 L183.8,516.3 L184.4,514.1 L185.0,511.9 L184.5,509.8 L185.2,508.7 L185.1,506.6 L186.2,504.5 L186.5,502.3 L186.1,500.2 L186.3,498.1 L186.3,496.0 L185.8,493.9 L185.8,491.7 L185.9,489.6 L187.5,487.5 L187.3,485.4 L187.9,483.2 L186.6,481.1 L187.5,479.0 L187.8,476.9 L187.6,474.8 L188.1,472.7 L187.5,470.5 L188.7,468.4 L187.3,466.3 L188.2,464.2 L188.6,462.1 L188.9,460.0 L188.7,457.8 L188.8,455.7 L189.0,453.6 L188.6,451.5 L189.4,453.7 L188.6,455.9 L189.2,458.0 L189.7,460.2 L189.7,462.4 L189.1,464.6 L189.8,466.7 L190.0,468.9 L189.5,470.0 L189.7,472.1 L189.8,474.3 L189.5,476.4 L189.8,478.6 L189.9,480.7 L189.1,482.8 L190.1,485.0 L190.7,487.1 L190.6,489.3 L190.4,491.4 L189.9,493.6 L190.5,495.7 L190.3,497.8 L190.1,500.0 L190.8,502.1 L189.7,504.3 L190.4,506.4 L191.0,504.2 L190.0,502.1 L191.1,499.9 L191.1,497.8 L190.9,495.6 L191.8,493.5 L191.7,491.3 L192.1,489.2 L192.0,488.1 L193.2,486.1 L192.6,484.1 L192.8,482.0 L193.7,480.0 L194.3,479.0 L195.1,478.6 L195.8,476.8 L196.6,476.7 L197.1,476.9 L197.5,479.4 L198.0,479.8 L198.4,480.3 L198.9,481.3 L199.2,483.1 L199.6,482.9 L199.9,484.6 L200.2,484.5 L200.5,486.0 L200.9,487.8 L201.2,488.1 L201.7,489.8 L202.2,490.6 L202.7,490.3 L203.1,491.5 L203.6,491.8 L204.1,492.2 L204.6,493.8 L204.9,495.8 L205.7,497.8 L206.1,499.8 L205.8,501.8 L206.4,499.8 L207.0,497.8 L206.2,495.7 L206.2,493.7 L206.9,492.7 L207.5,491.7 L208.1,490.5 L208.6,489.5 L209.2,489.1 L209.8,488.7 L210.3,487.5 L210.9,486.3 L211.5,485.8 L212.0,485.6 L212.5,484.9 L213.0,482.8 L213.4,481.0 L213.9,479.9 L214.4,480.8 L214.9,479.0 L215.4,477.1 L215.8,477.6 L216.3,476.4 L216.7,474.9 L217.2,474.4 L218.0,474.7 L218.9,472.7 L219.8,472.7 L220.6,473.2 L221.2,474.0 L221.8,473.9 L222.3,476.6 L222.9,476.7 L222.8,474.6 L223.0,472.5 L223.2,470.4 L224.5,468.3 L224.6,466.2 L225.2,464.1 L225.2,463.0 L225.9,460.9 L226.5,458.8 L227.2,456.7 L227.2,454.6 L226.8,452.5 L227.5,451.5 L229.8,428.6 L231.4,396.6 L233.7,374.9 L235.5,398.9 L236.0,397.9 L236.4,396.4 L236.9,395.1 L237.3,395.2 L237.8,394.3 L238.2,393.8 L238.6,391.7 L238.9,390.9 L239.3,390.2 L239.7,390.0 L240.1,388.6 L240.7,389.4 L241.2,390.4 L241.8,391.5 L242.4,391.4 L242.9,393.1 L243.5,393.2 L244.3,394.7 L245.2,393.4 L246.1,395.9 L246.9,395.5 L249.2,409.2 L251.5,401.2 L251.9,402.7 L252.3,402.4 L252.6,404.1 L253.0,405.5 L253.4,407.2 L253.8,407.0 L254.1,408.4 L254.5,410.1 L254.9,410.3 L257.2,419.5 L258.4,428.6 L259.5,417.2 L260.1,418.7 L260.6,419.9 L261.2,419.7 L261.8,420.6 L262.3,420.1 L262.8,418.3 L263.3,418.6 L263.7,418.0 L264.2,416.8 L264.7,416.2 L265.2,414.9 L268.7,402.3 L269.3,402.5 L269.9,404.9 L270.4,406.0 L271.0,405.8 L271.9,406.3 L272.7,404.7 L273.5,404.7 L274.4,403.5 L275.2,403.4 L276.1,405.0 L276.9,405.1 L277.8,404.6 L278.4,405.0 L279.0,405.2 L279.6,406.8 L280.1,407.8 L280.7,409.0 L281.3,409.2 L281.8,410.1 L282.3,410.1 L282.8,412.8 L283.2,412.1 L283.7,414.7 L284.2,414.3 L284.7,416.0 L285.4,416.3 L286.1,418.0 L286.7,417.3 L287.4,418.0 L288.1,419.5 L288.5,420.5 L288.9,422.0 L289.2,423.3 L289.6,424.0 L290.0,425.5 L290.4,425.6 L290.7,427.6 L291.1,426.7 L291.5,428.6 L291.8,428.9 L292.1,430.4 L292.4,430.8 L292.7,432.1 L293.3,431.8 L293.8,430.9 L294.4,429.9 L295.0,429.8 L295.5,428.4 L296.1,427.5 L296.6,426.3 L297.1,425.6 L297.6,425.8 L298.1,425.1 L298.6,422.8 L299.1,423.4 L299.6,421.8 L301.8,428.6 L302.6,430.0 L303.3,429.5 L304.1,429.8 L304.6,430.9 L305.1,431.1 L305.6,432.8 L306.1,433.7 L306.6,434.9 L307.1,434.6 L307.6,436.6 L308.1,438.6 L308.5,438.5 L309.0,439.1 L309.4,440.9 L309.9,441.2 L310.8,452.0 L310.9,454.2 L311.4,456.4 L310.5,458.5 L311.4,460.7 L311.7,458.6 L311.8,456.4 L312.9,454.3 L313.2,452.2 L312.4,450.1 L313.3,445.8 L313.8,446.7 L314.2,446.8 L314.7,448.4 L315.1,450.2 L315.6,450.4 L316.1,450.4 L316.5,448.5 L317.0,447.2 L317.4,446.0 L317.9,445.8 L318.4,445.2 L318.9,445.1 L319.4,442.5 L319.8,443.2 L320.3,440.7 L320.8,440.2 L321.3,440.1 L321.9,440.2 L322.4,442.0 L323.0,442.0 L323.6,442.8 L324.1,444.1 L324.7,444.6 L325.2,444.6 L325.7,446.8 L326.2,446.3 L326.6,447.9 L327.1,448.2 L327.6,448.9 L328.1,450.4 L329.0,450.2 L329.9,449.7 L330.7,449.2 L331.6,449.2 L332.5,448.8 L333.4,448.8 L334.4,447.8 L335.3,447.7 L336.2,448.1 L336.8,449.2 L337.3,450.1 L337.8,450.7 L338.4,451.5 L339.0,451.5 L339.6,450.2 L340.1,450.0 L340.7,447.8 L341.3,448.2 L341.9,446.9 L342.3,446.6 L342.7,445.9 L343.0,443.6 L343.4,442.7 L343.8,443.1 L344.2,441.2 L344.8,439.7 L345.4,440.6 L345.9,439.5 L346.5,437.8 L347.2,437.8 L348.0,438.8 L348.7,440.1 L351.2,450.5 L351.0,451.5 L351.1,453.4 L351.4,455.3 L352.6,457.2 L353.8,455.3 L353.7,453.4 L354.5,451.5 L355.4,451.6 L356.2,449.5 L357.0,449.6 L357.9,449.2 L358.8,449.0 L359.6,447.0 L360.4,446.8 L361.3,446.9 L361.8,446.3 L362.3,445.9 L362.8,445.0 L363.3,442.2 L363.8,442.1 L364.3,441.6 L364.8,440.1 L367.0,428.6 L367.5,429.5 L367.9,430.8 L368.4,430.7 L368.8,431.3 L369.3,433.2 L369.7,431.4 L370.1,430.3 L370.5,430.5 L370.8,429.4 L371.2,428.6 L371.6,427.5 L372.0,425.7 L372.5,424.8 L372.9,423.8 L373.3,424.2 L373.7,423.6 L374.1,422.4 L374.6,419.6 L375.0,419.5 L375.9,418.2 L376.8,419.9 L377.6,418.5 L378.5,418.3 L378.9,419.9 L379.3,420.0 L379.6,421.3 L380.0,422.4 L380.4,423.3 L380.8,424.7 L381.1,424.4 L381.5,426.9 L381.9,427.5 L382.6,427.6 L383.3,425.4 L383.9,425.4 L384.6,425.3 L385.3,424.1 L386.0,423.2 L386.7,422.0 L387.4,421.3 L388.1,421.3 L388.8,420.6 L389.6,420.1 L390.5,422.6 L391.4,423.0 L392.2,422.9 L393.1,423.1 L393.9,423.1 L394.8,422.4 L395.6,421.8 L396.5,421.0 L397.4,420.9 L398.2,420.1 L399.1,420.6 L400.0,419.0 L400.5,418.8 L401.0,416.8 L401.5,417.4 L402.0,416.2 L402.5,415.4 L403.0,414.0 L403.7,414.0 L404.4,412.5 L405.1,412.9 L405.8,412.2 L406.5,411.1 L407.2,410.0 L410.6,395.9 L411.2,397.2 L411.7,398.0 L412.3,397.9 L412.9,399.4 L413.4,398.7 L414.0,400.4 L414.7,400.9 L415.3,402.0 L416.0,401.8 L416.6,403.4 L417.3,404.8 L417.9,405.6 L418.6,406.2 L419.4,406.3 L420.1,408.6 L420.9,408.4 L421.7,408.3 L422.5,407.1 L423.3,407.3 L424.2,406.6 L425.0,406.0 L425.8,405.2 L426.6,405.0 L427.4,405.6 L428.2,404.3 L429.0,404.0 L429.9,403.6 L430.7,403.6 L431.5,401.0 L432.3,401.6 L433.1,401.3 L433.8,401.0 L434.6,399.4 L435.4,399.1 L436.1,397.8 L436.9,398.2 L437.8,397.0 L438.6,396.8 L439.4,395.6 L440.3,395.9 L441.2,394.9 L442.1,395.9 L443.1,394.6 L444.0,394.1 L444.9,393.6 L447.2,385.6 L449.0,378.7 L449.9,392.4 L450.3,392.5 L450.8,390.6 L451.2,390.6 L451.6,388.8 L452.0,388.2 L452.5,385.6 L452.9,385.6 L453.5,385.0 L454.0,384.6 L454.6,382.3 L455.2,383.5 L455.7,381.0 L456.3,381.0 L456.7,379.9 L457.2,378.3 L457.6,378.0 L458.1,377.2 L458.5,375.0 L458.9,376.0 L459.4,373.8 L459.8,373.0 L460.4,373.9 L461.0,374.9 L461.5,375.3 L462.1,376.4 L463.7,385.6 L466.6,376.4 L467.4,375.2 L468.1,375.2 L468.9,374.1 L472.4,360.4 L475.8,344.4 L478.8,334.1 L479.2,335.2 L479.7,335.5 L480.1,337.4 L480.6,337.5 L481.1,337.8 L481.5,339.8 L482.3,338.9 L483.0,338.1 L483.8,338.7 L485.6,350.1 L487.2,337.5 L489.5,328.4 L491.8,316.9 L492.2,315.2 L492.7,315.5 L493.1,313.7 L493.5,313.9 L493.9,312.6 L494.4,310.1 L494.8,310.1 L496.4,315.8 L497.5,327.2 L499.8,318.1 L502.1,307.8 L504.4,300.9 L505.2,301.2 L505.9,300.3 L506.7,298.6 L507.8,291.8 L509.0,298.6 L510.8,284.9 L512.4,271.2 L513.5,255.2 L514.9,246.0 L516.3,259.7 L517.7,255.2 L518.1,253.5 L518.4,254.6 L518.8,252.9 L520.4,264.3 L522.2,271.2 L523.8,280.3 L525.0,291.8 L526.8,275.8 L527.1,274.7 L527.4,273.9 L527.8,274.1 L528.1,271.6 L528.4,271.2 L528.7,272.2 L529.1,274.1 L529.4,274.6 L529.7,275.0 L530.0,277.1 L530.4,277.7 L530.7,278.0 L533.0,284.9 L535.3,291.8 L535.6,291.0 L536.0,289.0 L536.3,289.1 L536.6,287.8 L536.9,286.2 L537.3,284.9 L537.6,284.9 L539.9,278.0 L540.6,278.8 L541.4,278.7 L542.1,280.3 L542.5,281.1 L542.9,282.6 L543.2,283.1 L543.6,283.6 L544.0,285.2 L544.4,286.0 L544.9,286.7 L545.4,288.3 L545.9,288.6 L546.4,290.4 L546.9,291.1 L547.4,291.5 L547.9,291.8 L548.3,292.2 L548.7,292.9 L549.0,295.5 L549.4,296.2 L549.8,296.8 L550.2,297.5 L551.1,296.9 L551.9,296.4 L552.8,297.0 L553.6,296.3 L555.9,287.2 L556.3,286.6 L556.6,285.9 L557.0,284.9 L559.8,296.3 L560.4,295.9 L561.0,295.5 L561.5,293.6 L562.1,293.0 L562.7,292.9 L563.4,294.6 L564.1,295.2 L564.8,295.8 L565.5,294.6 L566.2,296.3 L567.1,295.6 L568.0,296.3 L568.9,296.9 L569.8,297.5 L570.7,297.5 L571.6,296.3 L572.5,297.0 L573.3,295.7 L574.2,296.3 L575.1,295.5 L575.9,296.9 L576.8,296.8 L577.6,296.8 L579.4,307.8 L581.7,320.4 L582.0,321.7 L582.4,322.1 L582.7,323.3 L583.0,323.6 L583.3,324.9 L583.7,326.8 L584.0,327.2 L585.6,319.2 L586.3,320.6 L587.0,319.7 L587.6,320.5 L588.3,322.7 L589.0,322.7 L589.9,323.4 L590.8,324.2 L591.8,323.4 L592.7,324.3 L593.6,324.9 L594.1,323.6 L594.6,324.0 L595.1,322.2 L595.5,322.0 L596.0,321.9 L596.5,319.6 L597.0,319.2 L597.9,319.0 L598.8,319.2 L599.6,319.3 L600.5,318.1 L601.5,317.6 L602.5,317.1 L603.6,316.2 L604.6,316.7 L605.7,306.4 L606.5,306.7 L607.2,304.3 L608.0,303.8 L608.8,304.3 L609.5,303.5 L610.3,303.0 L612.6,288.1 L613.2,287.7 L613.8,286.0 L614.3,286.2 L614.9,284.7 L615.7,284.1 L616.4,284.8 L617.2,285.8 L619.4,274.4 L621.3,265.2 L622.1,266.3 L622.8,265.8 L623.6,267.5 L625.2,276.7 L625.7,275.3 L626.2,275.2 L626.7,274.2 L627.1,272.3 L627.6,271.0 L628.1,270.5 L628.6,269.8 L629.1,271.2 L629.5,271.3 L630.0,271.7 L630.4,273.9 L630.9,274.4 L631.8,275.1 L632.6,276.5 L633.4,277.1 L634.3,276.7 L635.1,276.8 L635.8,275.0 L636.6,274.4 L638.9,283.5 L639.6,284.9 L640.3,284.5 L640.9,285.2 L641.6,286.1 L642.3,287.0 L644.6,279.0 L645.4,280.3 L646.1,280.6 L646.9,280.1 L649.2,289.3 L649.8,289.6 L650.4,290.7 L650.9,291.6 L651.5,292.7 L652.4,292.2 L653.3,292.0 L654.3,291.7 L655.2,291.1 L656.1,291.5 L658.3,284.7 L658.8,284.0 L659.3,283.7 L659.8,282.3 L660.3,282.2 L660.8,280.8 L661.3,279.1 L661.8,279.0 L662.5,278.9 L663.2,278.4 L663.8,276.4 L664.5,275.1 L665.2,275.5 L665.7,276.5 L666.1,277.4 L666.6,278.4 L667.0,280.2 L667.5,280.1 L669.1,287.0 L670.5,308.7 L672.8,297.3 L673.3,296.7 L673.9,296.1 L674.4,293.6 L675.0,293.7 L675.5,292.7 L676.0,292.4 L676.4,289.9 L676.9,289.0 L677.3,289.5 L677.8,288.1 L680.1,279.0 L680.9,279.1 L681.6,276.6 L682.4,276.7 L683.1,277.7 L683.8,277.3 L684.4,279.3 L685.1,279.7 L685.8,280.1 L686.6,279.3 L687.5,278.9 L688.4,279.9 L689.2,279.0 L690.1,279.1 L691.0,279.7 L692.0,279.0 L692.9,279.0 L693.8,279.4 L696.1,272.1 L696.7,272.3 L697.2,270.8 L697.8,269.5 L698.4,268.7 L699.2,269.0 L700.1,269.5 L700.9,269.7 L701.8,269.4 L702.2,271.1 L702.6,270.9 L703.0,272.6 L703.3,273.1 L703.7,274.3 L704.1,274.4 L705.0,274.8 L705.8,274.5 L706.6,274.4 L707.5,273.2 L708.2,273.5 L708.9,272.1 L709.6,271.2 L710.3,270.9 L711.0,269.8 L713.2,263.0 L715.5,256.1 L717.8,249.2 L718.4,249.0 L719.0,247.3 L719.5,246.5 L720.1,245.8 L720.9,245.4 L721.6,247.1 L722.4,246.9 L724.7,237.8 L727.0,224.1 L728.6,213.8 L730.4,221.8 L731.0,222.1 L731.6,220.0 L732.2,219.5 L733.8,209.2 L736.1,201.2 L737.0,201.0 L737.9,202.3 L740.0,194.3 L740.5,194.6 L740.9,196.0 L741.4,196.6 L741.8,199.0 L742.3,198.9 L742.8,197.0 L743.2,196.6 L743.7,195.3 L744.1,195.5 L744.6,194.3 L745.2,194.1 L745.8,192.1 L746.4,192.0 L746.7,192.0 L747.1,193.9 L747.4,195.1 L747.7,196.8 L748.0,195.9 L748.4,197.1 L748.7,198.9 L749.3,197.4 L749.9,196.7 L750.5,196.6 L752.1,205.8 L753.7,216.1 L754.5,215.1 L755.2,215.8 L756.0,214.9 L756.4,216.0 L756.8,216.1 L757.1,217.0 L757.5,218.1 L757.9,219.5 L758.6,218.4 L759.4,219.3 L760.1,218.3 L760.6,218.8 L761.0,220.2 L761.5,221.8 L761.9,221.9 L762.4,222.9 L763.2,222.8 L763.9,224.6 L764.7,224.1 L766.5,214.9 L768.8,208.0 L769.3,208.0 L769.7,205.9 L770.2,205.4 L770.6,205.4 L771.1,203.5 L771.9,203.1 L772.6,202.1 L773.4,202.3 L774.2,200.8 L775.0,201.2 L777.3,209.2 L779.6,201.2 L781.4,192.0 L782.2,192.2 L782.9,191.1 L783.7,189.7 L784.6,189.1 L785.6,189.0 L786.5,188.6 L788.7,195.5 L789.5,196.3 L790.2,196.5 L791.0,197.8 L791.3,199.8 L791.7,200.1 L792.0,200.1 L792.3,200.6 L792.6,202.6 L793.0,203.3 L793.3,204.6 L794.1,204.9 L794.8,204.3 L795.6,203.5 L796.0,204.7 L796.4,204.6 L796.8,205.6 L797.1,206.9 L797.5,207.7 L797.9,209.2 L798.4,211.0 L798.9,211.1 L799.4,212.4 L799.9,214.1 L800.4,213.4 L800.9,214.9 L801.3,214.0 L801.7,212.2 L802.0,212.6 L802.4,210.0 L802.8,210.9 L803.2,209.2 L803.8,210.8 L804.3,211.6 L804.9,210.8 L805.4,212.6 L806.1,211.5 L806.8,211.9 L807.5,210.0 L808.2,210.3 L809.0,210.7 L809.7,211.0 L810.5,211.5 L811.0,211.6 L811.4,209.8 L811.9,209.4 L812.3,207.3 L812.8,207.4 L813.2,205.8 L813.7,206.5 L814.1,208.5 L814.6,207.6 L815.0,210.1 L815.5,210.3 L816.2,210.2 L817.0,211.5 L817.8,212.1 L818.5,212.6 L818.9,212.7 L819.3,215.1 L819.7,214.8 L820.1,216.1 L821.9,226.3 L822.8,225.6 L823.6,224.8 L824.4,225.0 L825.3,225.2 L826.9,230.9 L828.4,245.9 L829.2,245.4 L830.0,245.5 L830.8,244.2 L831.6,244.1 L832.2,243.8 L832.9,241.9 L833.6,241.8 L834.2,241.4 L834.8,240.4 L835.4,240.7 L836.0,239.5 L836.6,238.2 L837.2,235.9 L837.8,236.1 L838.3,236.5 L838.9,238.0 L839.4,237.6 L840.0,239.0 L840.5,239.6 L840.8,240.4 L841.2,240.3 L841.5,243.4 L841.9,243.9 L842.2,244.1 L842.8,242.6 L843.4,242.6 L844.0,240.9 L844.6,240.5 L845.0,241.3 L845.3,242.7 L845.7,243.2 L846.0,244.3 L846.4,245.4 L846.7,246.7 L847.6,246.9 L848.5,245.8 L849.3,245.4 L850.2,245.9 L850.9,245.7 L851.6,244.1 L852.4,244.7 L853.1,243.2 L853.8,242.3 L854.7,243.2 L855.6,243.2 L856.5,253.9 L857.4,253.2 L858.2,254.0 L859.1,253.0 L859.7,251.2 L860.3,250.4 L860.9,250.3 L861.6,250.1 L862.2,252.0 L862.9,252.8 L863.6,253.0 L864.6,252.0 L865.6,252.2 L866.6,252.1 L868.4,245.0 L870.7,237.8 L871.6,238.0 L872.5,236.9 L873.4,236.1 L874.3,235.5 L875.1,236.1 L876.0,237.0 L876.4,237.1 L876.8,237.9 L877.2,239.4 L877.6,239.6 L878.0,242.3 L878.4,242.3 L879.6,232.5 L880.0,231.5 L880.3,230.8 L880.7,230.2 L881.0,229.6 L881.4,228.1 L882.3,228.5 L883.1,227.2 L884.0,226.8 L884.9,226.8 L885.8,226.7 L886.7,225.9 L887.6,226.9 L888.5,227.2 L889.4,228.2 L890.3,229.5 L891.2,229.0 L892.1,229.9 L892.9,229.9 L893.8,229.8 L894.7,230.6 L895.6,229.9 L896.5,231.6 L896.9,230.3 L897.3,229.5 L897.7,229.3 L898.0,227.2 L898.4,226.9 L898.8,226.3 L899.2,225.4 L899.8,225.4 L900.3,224.9 L900.9,223.6 L901.8,224.3 L902.7,223.8 L903.6,225.0 L904.5,225.9 L905.4,226.5 L906.3,226.1 L907.2,226.3 L907.9,226.7 L908.5,227.7 L909.1,227.5 L909.8,229.0 L910.3,230.2 L910.9,231.5 L911.4,231.1 L912.0,232.3 L912.5,232.5 L913.4,233.7 L914.3,233.4 L915.0,232.1 L915.6,233.0 L916.3,231.7 L917.0,230.7 L917.9,229.7 L918.7,229.2 L919.6,229.8 L920.0,228.4 L920.3,228.2 L920.7,227.6 L921.0,225.9 L921.4,225.4 L923.2,219.2 L923.8,219.2 L924.4,217.1 L925.0,216.5 L925.9,215.8 L926.7,214.5 L927.6,214.7 L928.0,214.9 L928.5,212.1 L929.0,213.0 L929.4,211.2 L929.9,210.4 L930.3,209.5 L930.8,208.6 L931.2,207.6 L932.1,207.4 L933.0,209.1 L933.9,208.5 L934.5,208.9 L935.2,207.8 L935.9,206.7 L936.5,205.8 L936.9,205.9 L937.2,208.3 L937.6,208.0 L937.9,210.3 L938.3,210.3 L938.7,210.3 L939.2,211.7 L939.6,212.1 L940.1,211.9 L940.5,209.6 L941.0,209.5 L941.4,207.6 L941.9,207.6 L943.6,202.3 L944.0,200.4 L944.5,199.8 L945.0,200.7 L945.4,198.7 L946.7,191.6 L947.1,191.7 L947.4,190.1 L947.8,188.5 L948.1,188.4 L948.5,187.1 L949.0,188.2 L949.4,188.0 L949.9,188.9 L950.5,188.5 L951.2,188.4 L951.9,186.1 L952.5,186.6 L953.1,186.7 L953.7,188.1 L954.3,188.9 L954.9,189.0 L955.5,190.5 L956.1,191.6 L957.0,191.9 L957.9,191.1 L958.8,192.0 L959.3,191.2 L959.8,189.8 L960.4,189.6 L960.9,188.2 L961.4,187.7 L962.0,187.5 L962.6,185.7 L963.2,186.3 L964.1,187.1 L965.0,186.5 L965.9,187.7 L966.6,189.4 L967.3,189.3 L968.0,189.8 L968.5,190.6 L968.9,191.4 L969.4,192.8 L969.8,193.8 L970.3,194.3 L971.2,195.3 L972.1,195.2 L973.9,188.9 L974.8,189.0 L975.7,188.0 L976.9,196.9 L977.4,196.0 L977.8,196.2 L978.3,195.0 L978.7,194.2 L979.2,192.5 L980.1,191.8 L981.0,191.6 L981.5,192.4 L981.9,193.7 L982.3,195.4 L982.8,195.5 L983.5,194.8 L984.1,194.1 L984.8,193.1 L985.5,192.5 L986.4,193.1 L987.2,191.5 L988.1,191.6 L988.8,189.9 L989.5,190.7 L990.1,190.5 L990.8,188.9 L991.3,188.5 L991.8,187.4 L992.4,186.8 L992.9,185.4 L994.7,179.1 L996.1,173.8 L996.8,172.7 L997.5,172.7 L998.1,170.8 L998.8,171.1 L999.5,169.5 L1000.1,169.5 L1000.8,168.9 L1001.5,168.1 L1001.9,168.6 L1002.4,168.6 L1002.8,170.8 L1003.2,171.1 L1004.1,170.7 L1005.0,170.2 L1005.6,170.2 L1006.2,171.0 L1006.8,172.0 L1007.2,170.9 L1007.6,169.7 L1008.1,168.4 L1008.5,169.4 L1008.9,167.6 L1009.7,169.2 L1010.5,169.2 L1011.3,169.4 L1011.9,170.9 L1012.6,170.5 L1013.2,172.0 L1013.9,172.0 L1014.5,172.0 L1015.1,173.7 L1015.7,173.8 L1016.1,174.8 L1016.4,176.5 L1016.8,175.6 L1017.1,177.4 L1017.7,177.4 L1018.3,175.4 L1018.9,175.6 L1019.4,176.3 L1020.0,177.9 L1020.5,176.5 L1021.0,178.2 L1021.9,178.2 L1022.8,179.0 L1023.7,180.0 L1024.2,178.7 L1024.6,177.3 L1025.1,178.2 L1025.5,177.2 L1026.0,175.6 L1026.5,174.5 L1026.9,173.5 L1027.3,173.1 L1027.8,172.0 L1028.3,170.1 L1028.8,169.2 L1029.4,170.3 L1029.9,168.5 L1030.5,167.5 L1031.1,167.3 L1031.7,166.7 L1032.6,168.0 L1033.5,168.4 L1034.4,167.6 L1035.0,167.1 L1035.6,166.1 L1036.2,166.3 L1037.1,166.0 L1037.9,167.5 L1038.8,166.7 L1039.5,166.9 L1040.2,164.7 L1040.8,165.4 L1041.5,164.0 L1042.3,163.1 L1043.0,162.7 L1043.8,162.2 L1044.8,161.8 L1045.8,163.6 L1046.8,163.1 L1047.7,164.0 L1048.6,162.8 L1049.5,162.7 L1050.4,164.3 L1051.3,164.6 L1052.3,163.6 L1053.4,164.0 L1054.2,164.5 L1054.9,162.4 L1055.7,163.1 L1056.5,161.9 L1057.2,163.0 L1058.0,162.2 L1058.5,162.7 L1059.1,164.9 L1059.7,165.7 L1060.2,165.8 L1060.9,166.0 L1061.6,164.4 L1062.3,164.9 L1062.8,166.2 L1063.2,167.7 L1063.6,167.5 L1064.1,168.5 L1064.5,168.5 L1064.8,169.7 L1065.2,170.7 L1065.5,172.5 L1065.9,172.9 L1066.5,173.1 L1067.0,174.0 L1067.6,175.6 L1068.4,174.8 L1069.2,175.5 L1070.0,175.6 L1070.8,174.7 L1071.7,174.7 L1072.6,175.7 L1073.5,175.6 L1074.0,175.8 L1074.5,174.4 L1075.1,173.0 L1075.6,172.9 L1076.5,172.0 L1077.4,172.0 L1077.7,173.8 L1078.1,174.2 L1078.4,174.2 L1078.7,175.9 L1079.1,175.6 L1079.4,177.4 L1080.6,183.6 L1081.9,190.7 L1082.7,191.2 L1083.4,189.4 L1084.2,188.9 L1084.8,188.2 L1085.4,187.4 L1086.0,186.6 L1086.8,185.8 L1087.7,187.1" fill="none" stroke="#ffffff" stroke-width="2.1" stroke-linejoin="round"/><circle cx="1087.7" cy="187" r="2" fill="#fff"/><path d="M100.5,637 H1089.5" stroke="#f5a524" stroke-width="2" stroke-dasharray="8 4"/><path d="M376.0,103.3 H401.0" stroke="#f7931a" stroke-width="2"/><circle cx="388.5" cy="103.3" r="5.5" fill="#f7931a"/><path d="M561.5,103.3 H586.5" stroke="#9ca3af" stroke-width="2"/><circle cx="574" cy="103.3" r="5.5" fill="#9ca3af"/><path d="M796.1,103.3 H821.1" stroke="#ffffff" stroke-width="2"/><circle cx="808.6" cy="103.3" r="5.5" fill="#ffffff"/></svg>
<div class="t lg" style="left:406.4px;top:96px;font-size:13px;color:#cbd5e1;letter-spacing:0px">Long-Term Holder MVRV</div>
<div class="t lg" style="left:591.4px;top:96px;font-size:13px;color:#cbd5e1;letter-spacing:0px">Long-Term Holder MVRV MA (90)</div>
<div class="t lg" style="left:826.2px;top:96px;font-size:13px;color:#cbd5e1;letter-spacing:-0.3px">Price</div>
<div class="t ax" style="right:1671.2px;top:146.4px;font-size:12px;color:#a3acbb">44.13</div>
<div class="t ax" style="right:1671.2px;top:193.2px;font-size:12px;color:#a3acbb">40</div>
<div class="t ax" style="right:1671.2px;top:305.0px;font-size:12px;color:#a3acbb">30</div>
<div class="t ax" style="right:1671.2px;top:418.0px;font-size:12px;color:#a3acbb">20</div>
<div class="t ax" style="right:1671.2px;top:531.0px;font-size:12px;color:#a3acbb">10</div>
<div class="t ax" style="right:1671.2px;top:641.2px;font-size:12px;color:#a3acbb">0.24</div>
<div class="t ax" style="left:1097.6px;top:145.8px;font-size:12px;color:#a3acbb">$144.056K</div>
<div class="t ax" style="left:1097.6px;top:163.1px;font-size:12px;color:#a3acbb">$100K</div>
<div class="t ax" style="left:1097.6px;top:269.2px;font-size:12px;color:#a3acbb">$10K</div>
<div class="t ax" style="left:1097.6px;top:375.9px;font-size:12px;color:#a3acbb">$1K</div>
<div class="t ax" style="left:1097.6px;top:482.0px;font-size:12px;color:#a3acbb">$100</div>
<div class="t ax" style="left:1097.6px;top:588.2px;font-size:12px;color:#a3acbb">$10</div>
<div class="t ax" style="left:1097.6px;top:641.3px;font-size:12px;color:#a3acbb">$3.217</div>
<div class="t" style="left:1095px;top:630.1px;font-size:12px;color:#f5a524">&le; 1.2</div>
<div class="t ax" style="left:80px;width:40px;text-align:center;top:654.7px;font-size:12px;color:#a3acbb">2012</div>
<div class="t ax" style="left:219.3px;width:40px;text-align:center;top:654.7px;font-size:12px;color:#a3acbb">2014</div>
<div class="t ax" style="left:358.4px;width:40px;text-align:center;top:654.7px;font-size:12px;color:#a3acbb">2016</div>
<div class="t ax" style="left:498.20000000000005px;width:40px;text-align:center;top:654.7px;font-size:12px;color:#a3acbb">2018</div>
<div class="t ax" style="left:637.6px;width:40px;text-align:center;top:654.7px;font-size:12px;color:#a3acbb">2020</div>
<div class="t ax" style="left:776.4px;width:40px;text-align:center;top:654.7px;font-size:12px;color:#a3acbb">2022</div>
<div class="t ax" style="left:916.3px;width:40px;text-align:center;top:654.7px;font-size:12px;color:#a3acbb">2024</div>
<div class="t ax" style="left:1055.5px;width:40px;text-align:center;top:654.7px;font-size:12px;color:#a3acbb">2026</div>
<div id="right"></div>
<div class="t" id="trig" style="left:1258px;top:78.2px;font-size:16px;font-weight:700;letter-spacing:0.05px">Trigger conditions</div>
<svg class="abs" style="left:1603px;top:77.5px" width="14" height="14" viewBox="0 0 14 14" stroke="#4f8ef7" stroke-width="1.5" stroke-linecap="round"><path d="M7 2V12M2 7H12"/></svg>
<div class="t" id="addc" style="left:1623px;top:76.8px;font-size:15px;color:#4f8ef7;-webkit-text-stroke:0.3px #4f8ef7">Add Condition</div>
<div class="abs" style="left:1257px;top:119px;width:472px;height:358px;background:#151e32;border:1px solid #1e293b;border-radius:14px"></div>
<div class="t lbl" style="left:1274.5px;top:144px">Metric</div>
<div class="inp" style="left:1274px;top:164px;width:438px;height:38px"></div>
<svg class="abs" style="left:1287px;top:175px" width="16" height="16" viewBox="0 0 16 16" fill="none" stroke="#9aa6bb" stroke-width="1.35" stroke-linecap="round"><circle cx="7.1" cy="7" r="5.5"/><path d="M11.2 11.1L14.8 14.7"/></svg>
<div class="t" id="metric" style="left:1311px;top:176px;font-size:14px;font-weight:700;letter-spacing:0.07px">Long-Term Holder MVRV (Lifespan)</div>
<svg class="abs" style="left:1683px;top:175px" width="16" height="16" viewBox="0 0 16 16" fill="none" stroke="#6ee7b7" stroke-width="1.5" stroke-linecap="round" stroke-linejoin="round"><path d="M2.1 7.8L5.7 11.8L13.9 3.3"/></svg>
<div class="abs" style="left:1274px;top:214px;width:229px;height:38px;background:#1e293b;border-radius:16px"></div>
<div class="abs" style="left:1277px;top:217px;width:100px;height:31.5px;background:#0f172a;border-radius:13px"></div>
<div class="t" id="fixed" style="left:1289px;top:226px;font-size:14px;font-weight:700;letter-spacing:-0.1px">Fixed value</div>
<div class="t" id="dyn" style="left:1389.5px;top:224.5px;font-size:15px;color:#8a96aa;-webkit-text-stroke:0.3px #8a96aa">Dynamic value</div>
<div class="t lbl" style="left:1274.5px;top:272px">Operator</div>
<div class="inp" style="left:1274px;top:292px;width:438px;height:39.5px"></div>
<div class="t" id="oper" style="left:1287px;top:304px;font-size:14.5px;letter-spacing:0.15px;-webkit-text-stroke:0.3px #fff">Less than or equal &lt;=</div>
<svg class="abs" style="left:1684px;top:306px" width="14" height="12" viewBox="0 0 14 12" fill="none" stroke="#c8d0dd" stroke-width="1.4" stroke-linecap="round" stroke-linejoin="round"><path d="M2.6 3.6L7.1 8.1L11.7 3.6"/></svg>
<div class="t lbl" style="left:1274.5px;top:352px">Value</div>
<div class="inp" style="left:1274px;top:372px;width:438px;height:39.5px"></div>
<div class="t" style="left:1287px;top:384.3px;font-size:14px;-webkit-text-stroke:0.3px #fff">1,2</div>
<svg class="abs" style="left:1546px;top:433.5px" width="16" height="17" viewBox="0 0 16 17" fill="none" stroke="#4d5a75" stroke-width="1.3" stroke-linecap="round" stroke-linejoin="round"><path d="M1.2 4.4H15.2M5 4.4V2.9Q5 1.9 6 1.9H9.8Q10.8 1.9 10.8 2.9V4.4M3 4.4V13.8Q3 15.3 4.5 15.3H11.7Q13.2 15.3 13.2 13.8V4.4M6.6 7.1V12M9.5 7.1V12"/></svg>
<div class="t" id="remove" style="left:1577.8px;top:434.7px;font-size:14px;letter-spacing:0.46px;color:#4d5a75;-webkit-text-stroke:0.35px #4d5a75">Remove Condition</div>
<div class="t" id="freq" style="left:1257.5px;top:505px;font-size:16.5px;font-weight:700;letter-spacing:-0.3px">Frequency</div>
<div class="inp" style="left:1257px;top:533px;width:472px;height:40px"></div>
<div class="t" id="once" style="left:1270.5px;top:546px;font-size:14.4px;-webkit-text-stroke:0.3px #fff">Once per Day</div>
<svg class="abs" style="left:1701px;top:547px" width="14" height="12" viewBox="0 0 14 12" fill="none" stroke="#c8d0dd" stroke-width="1.4" stroke-linecap="round" stroke-linejoin="round"><path d="M2.6 3.6L7.1 8.1L11.7 3.6"/></svg>
<div class="t" id="deliv" style="left:1257.5px;top:600.5px;font-size:16.5px;font-weight:700;letter-spacing:-0.12px">Delivery channels</div>
<div class="abs" style="left:1257px;top:637px;width:230px;height:54px;background:#152240;border:1px solid #2b58ab;border-radius:16px"></div>
<svg class="abs" style="left:1274px;top:656px" width="20" height="16.4" viewBox="0 0 22 18" fill="none" stroke="#4f8ef7" stroke-width="1.5" stroke-linecap="round" stroke-linejoin="round"><rect x="1.5" y="1.5" width="19" height="15" rx="2.2"/><path d="M1.8 4L11 10.5L20.2 4"/></svg>
<div class="t ch" style="left:1306.6px;top:657px;font-size:14px;font-weight:700;letter-spacing:-0.3px">Email</div>
<svg class="abs" style="left:1450px;top:653.8px" width="20" height="20" viewBox="0 0 20 20"><circle cx="10" cy="10" r="10" fill="#4a8df6"/><path d="M6.2 10.2L8.8 12.7L13.8 7.4" fill="none" stroke="#0f172a" stroke-width="1.5" stroke-linecap="round" stroke-linejoin="round"/></svg>
<div class="abs" style="left:1499px;top:637px;width:230px;height:54px;background:#152240;border:1px solid #2b58ab;border-radius:16px"></div>
<svg class="abs" style="left:1515.6px;top:653.8px" width="20.4" height="20.4" viewBox="0 0 22 22" fill="none" stroke="#4f8ef7" stroke-width="1.5" stroke-linecap="round" stroke-linejoin="round"><path d="M20 2L2 8.6L9.6 12.2L13.2 20L20 2ZM9.6 12.2L20 2"/></svg>
<div class="t ch" style="left:1548px;top:657px;font-size:14px;font-weight:700;letter-spacing:0.1px">Telegram</div>
<svg class="abs" style="left:1692px;top:653.8px" width="20" height="20" viewBox="0 0 20 20"><circle cx="10" cy="10" r="10" fill="#4a8df6"/><path d="M6.2 10.2L8.8 12.7L13.8 7.4" fill="none" stroke="#0f172a" stroke-width="1.5" stroke-linecap="round" stroke-linejoin="round"/></svg>
<div class="abs" style="left:1753px;top:76px;width:10px;height:638px;background:#1c2638"></div>
<div class="abs" style="left:1756px;top:295px;width:4.2px;height:407px;background:#4b5565;border-radius:2px"></div>
<svg class="abs" style="left:1753px;top:77px" width="9" height="8" viewBox="0 0 9 8" fill="none" stroke="#6b7688" stroke-width="1.6"><path d="M1 6L4.5 2.5L8 6"/></svg>
<svg class="abs" style="left:1753px;top:704px" width="9" height="8" viewBox="0 0 9 8" fill="none" stroke="#cbd5e1" stroke-width="1.6"><path d="M1 2L4.5 5.5L8 2"/></svg>
<div id="ftr"></div>
<div class="t" id="fstep" style="left:21px;top:752px;font-size:13px;color:#b4bccb;-webkit-text-stroke:0.3px #b4bccb">Step 3 of 3</div>
<div class="t" id="cancel" style="left:1524px;top:750.5px;font-size:15px;font-weight:700;letter-spacing:-0.2px">Cancel</div>
<div class="abs" style="left:1599px;top:739.5px;width:140px;height:39.5px;background:#4182f6;border-radius:13px"></div>
<svg class="abs" style="left:1614.4px;top:750.1px" width="17" height="17" viewBox="0 0 17 17" fill="none" stroke="#0c1a50" stroke-width="1.4" stroke-linecap="round" stroke-linejoin="round"><path d="M2.5 4Q2.5 2.5 4 2.5H11L14.5 6V13Q14.5 14.5 13 14.5H4Q2.5 14.5 2.5 13ZM5.5 14.5V9.5H11.5V14.5M5.5 2.5V5.5H10"/></svg>
<div class="t" id="upd" style="left:1639.5px;top:750.5px;font-size:15px;color:#0c1a50;-webkit-text-stroke:0.3px #0c1a50">Update Alert</div>
</div></body></html>
